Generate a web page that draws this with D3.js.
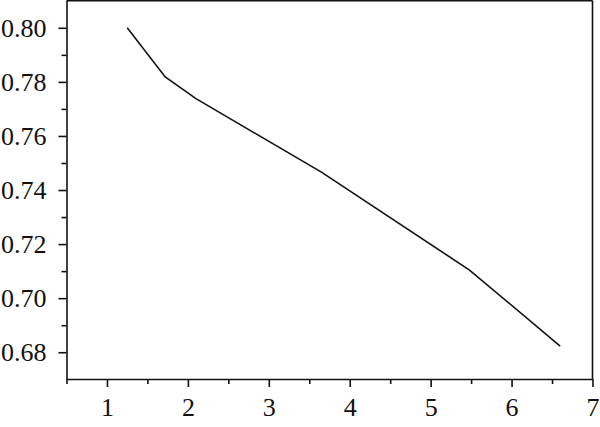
<!DOCTYPE html>
<html>
<head>
<meta charset="utf-8">
<script src="https://cdn.jsdelivr.net/npm/d3@7"></script>
<style>
  body { margin: 0; background: #fff; }
  .axis text { font-family: "Liberation Serif", serif; font-size: 26px; fill: #111; }
  .axis path, .axis line { stroke: #111; stroke-width: 1.6px; }
</style>
</head>
<body>
<div id="chart"></div>
<script>
// line values
const xValues = [1.25, 1.72, 2.1, 3.65, 5.48, 6.6];
const yValues = [0.800, 0.7818, 0.7738, 0.7466, 0.7104, 0.6823];

// tick values
const xTicks = [1, 2, 3, 4, 5, 6, 7];
const xMinorTicks = [0.5, 1.5, 2.5, 3.5, 4.5, 5.5, 6.5];
const yTicks = [0.68, 0.70, 0.72, 0.74, 0.76, 0.78, 0.80];
const yMinorTicks = [0.69, 0.71, 0.73, 0.75, 0.77, 0.79];

const totalW = 600, totalH = 427;
const margin = {top: 0.5, right: 7.5, bottom: 48, left: 66.5};
const width = totalW - margin.left - margin.right;
const height = totalH - margin.top - margin.bottom;

const svg = d3.select("#chart")
    .append("svg")
    .attr("width", totalW)
    .attr("height", totalH)
    .append("g")
    .attr("transform", `translate(${margin.left}, ${margin.top})`);

const x = d3.scaleLinear().domain([0.5, 7]).range([0, width]);
const y = d3.scaleLinear().domain([0.6701, 0.8101]).range([height, 0]);

// minor ticks first, no labels
svg.append("g")
    .attr("class", "axis")
    .attr("transform", `translate(0, ${height})`)
    .call(d3.axisBottom(x).tickValues(xMinorTicks).tickSize(5).tickFormat(""))
    .select(".domain").remove();

svg.append("g")
    .attr("class", "axis")
    .call(d3.axisLeft(y).tickValues(yMinorTicks).tickSize(5).tickFormat(""))
    .select(".domain").remove();

// major axes
svg.append("g")
    .attr("class", "axis")
    .attr("transform", `translate(0, ${height})`)
    .call(d3.axisBottom(x).tickValues(xTicks).tickSize(8).tickSizeOuter(0).tickPadding(11).tickFormat(d3.format("d")));

svg.append("g")
    .attr("class", "axis")
    .call(d3.axisLeft(y).tickValues(yTicks).tickSize(8).tickSizeOuter(0).tickPadding(12).tickFormat(d3.format(".2f")));

// top and right frame lines
svg.append("line")
    .attr("x1", 0).attr("x2", width)
    .attr("y1", 0).attr("y2", 0)
    .attr("stroke", "#111").attr("stroke-width", 2);

svg.append("line")
    .attr("x1", width).attr("x2", width)
    .attr("y1", 0).attr("y2", height)
    .attr("stroke", "#111").attr("stroke-width", 1.6);

// the series
const line = d3.line()
    .x((d, i) => x(xValues[i]))
    .y(d => y(d));

svg.append("path")
    .datum(yValues)
    .attr("fill", "none")
    .attr("stroke", "#111")
    .attr("stroke-width", 1.6)
    .attr("d", line);
</script>
</body>
</html>
